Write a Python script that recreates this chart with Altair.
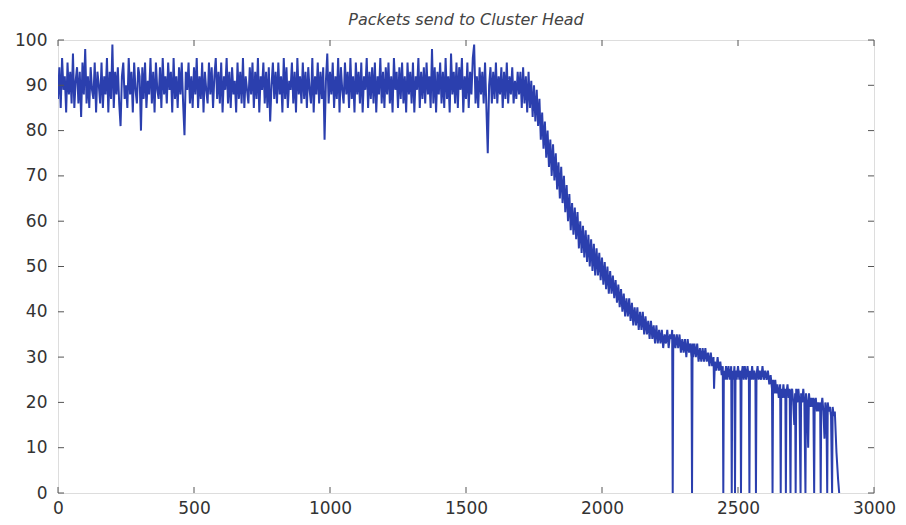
import altair as alt
import pandas as pd

# Sample spacing of the regularly sampled part of the trace
STEP = 5

# Values, x = 0 .. 1695 every 5 units
plateau = [
    87, 94, 85, 96, 89, 92, 84, 95, 88, 93, 86, 97, 85, 91, 94, 86, 93, 83, 95, 88,
    98, 86, 92, 85, 94, 89, 87, 95, 84, 93, 90, 86, 95, 85, 92, 88, 96, 84, 93, 87,
    99, 85, 93, 88, 94, 86, 81, 92, 95, 87, 90, 85, 96, 88, 93, 84, 95, 89, 86, 94,
    92, 80, 94, 87, 95, 85, 91, 88, 96, 86, 93, 84, 95, 89, 87, 94, 85, 96, 88, 92,
    86, 95, 89, 93, 84, 96, 87, 92, 85, 94, 88, 95, 86, 79, 93, 89, 95, 86, 92, 85,
    94, 88, 96, 85, 92, 87, 95, 84, 93, 89, 86, 95, 88, 94, 85, 92, 96, 87, 93, 86,
    95, 84, 92, 89, 96, 86, 93, 85, 94, 88, 91, 84, 95, 87, 93, 86, 96, 85, 92, 89,
    86, 94, 88, 95, 85, 93, 87, 96, 84, 92, 89, 95, 86, 93, 85, 94, 82, 90, 95, 87,
    93, 86, 95, 88, 92, 84, 96, 87, 94, 85, 91, 89, 95, 86, 93, 84, 96, 88, 92, 86,
    95, 87, 93, 85, 94, 89, 86, 96, 84, 92, 88, 95, 86, 93, 87, 94, 78, 91, 97, 86,
    93, 88, 95, 85, 92, 87, 96, 84, 94, 89, 86, 95, 88, 93, 85, 96, 87, 92, 84, 95,
    88, 93, 86, 95, 84, 92, 89, 96, 85, 93, 87, 94, 86, 95, 84, 92, 88, 96, 86, 93,
    85, 94, 88, 95, 86, 92, 84, 96, 89, 93, 85, 94, 87, 95, 86, 92, 84, 95, 88, 93,
    86, 95, 84, 92, 89, 96, 85, 93, 87, 94, 86, 95, 88, 92, 85, 98, 86, 94, 84, 93,
    88, 95, 86, 93, 85, 96, 87, 92, 84, 97, 88, 93, 86, 95, 85, 94, 89, 96, 84, 92,
    87, 95, 85, 93, 88, 96, 99, 86, 92, 85, 94, 88, 93, 86, 95, 85, 75, 90, 94, 86,
    93, 87, 95, 86, 92, 88, 94, 85, 93, 87, 95, 86, 92, 88, 94, 86, 91, 87, 93, 88,
]
# x = 1700 .. 2250 every 5 units
decline = [
    93, 85, 94, 86, 92, 84, 93, 85, 91, 83, 90, 82, 89, 81, 87, 78, 84, 76, 82, 74,
    80, 72, 78, 70, 77, 69, 75, 67, 73, 65, 72, 64, 70, 62, 68, 60, 66, 58, 64, 57,
    63, 56, 62, 54, 60, 53, 59, 52, 58, 51, 57, 50, 56, 49, 55, 48, 54, 48, 53, 47,
    52, 46, 51, 45, 50, 44, 49, 44, 48, 43, 47, 42, 46, 41, 45, 40, 44, 39, 43, 39,
    43, 38, 42, 37, 41, 37, 41, 36, 40, 36, 40, 35, 39, 35, 38, 34, 38, 34, 37, 33,
    37, 33, 36, 33, 36, 32, 35, 33, 36, 32, 35,
]

# Tail with the drop-outs to zero (explicit positions)
tail = [
    (2255, 34), (2258, 36), (2260, 0), (2262, 33), (2265, 35), (2270, 32), (2275, 35),
    (2280, 32), (2285, 35), (2290, 31), (2295, 34), (2300, 31), (2305, 34), (2310, 30),
    (2315, 34), (2320, 31), (2325, 33), (2329, 30), (2331, 0), (2333, 33), (2335, 30),
    (2340, 33), (2345, 30), (2350, 33), (2355, 29), (2360, 32), (2365, 29), (2370, 32),
    (2375, 29), (2380, 32), (2385, 29), (2390, 31), (2395, 28), (2400, 31), (2405, 28),
    (2410, 30), (2412, 23), (2415, 29), (2420, 27), (2425, 30), (2430, 27), (2435, 29),
    (2440, 26), (2444, 28), (2446, 0), (2448, 27), (2452, 25), (2456, 28), (2460, 25),
    (2465, 28), (2470, 25), (2475, 28), (2477, 0), (2479, 27), (2483, 25), (2487, 28),
    (2489, 0), (2491, 27), (2495, 25), (2500, 28), (2505, 25), (2509, 27), (2511, 0),
    (2513, 26), (2517, 28), (2521, 25), (2525, 28), (2530, 25), (2535, 28), (2540, 25),
    (2542, 0), (2544, 27), (2548, 25), (2552, 28), (2556, 25), (2560, 27), (2564, 25),
    (2566, 0), (2568, 26), (2572, 28), (2576, 25), (2580, 27), (2585, 25), (2590, 28),
    (2595, 25), (2600, 27), (2605, 25), (2610, 27), (2615, 24), (2620, 26), (2625, 23),
    (2627, 0), (2629, 25), (2633, 22), (2637, 25), (2641, 22), (2645, 24), (2650, 21),
    (2655, 24), (2657, 0), (2659, 23), (2663, 21), (2667, 24), (2671, 21), (2674, 23),
    (2676, 0), (2678, 22), (2682, 24), (2686, 21), (2690, 23), (2693, 0), (2695, 22),
    (2699, 23), (2703, 20), (2707, 15), (2710, 22), (2712, 0), (2714, 23), (2718, 20),
    (2722, 23), (2726, 20), (2730, 0), (2732, 22), (2736, 20), (2740, 23), (2744, 20),
    (2748, 0), (2750, 22), (2754, 20), (2758, 10), (2761, 22), (2765, 19), (2769, 21),
    (2773, 19), (2777, 21), (2780, 0), (2782, 20), (2786, 21), (2790, 18), (2794, 20),
    (2798, 18), (2802, 20), (2804, 0), (2806, 19), (2810, 21), (2814, 18), (2818, 12),
    (2821, 20), (2825, 18), (2828, 0), (2830, 20), (2834, 18), (2838, 19), (2842, 17),
    (2846, 0), (2848, 19), (2852, 17), (2856, 18), (2862, 9), (2868, 3), (2872, 0),
]

x_ticks = [0, 500, 1000, 1500, 2000, 2500, 3000]
y_ticks = [0, 10, 20, 30, 40, 50, 60, 70, 80, 90, 100]

main_y = plateau + decline
main_x = [i * STEP for i in range(len(main_y))]
tail_x = [p[0] for p in tail]
tail_y = [p[1] for p in tail]
df = pd.DataFrame({"x": main_x + tail_x, "y": main_y + tail_y})
df["order"] = range(len(df))

W, H = 816, 453
xs = alt.Scale(domain=[0, 3000], nice=False, zero=False)
ys = alt.Scale(domain=[0, 100], nice=False)

FONT = "DejaVu Sans"
LABEL_SIZE = 17

line = alt.Chart(df).mark_line(color="#2b3fae", strokeWidth=2.0, clip=True).encode(
    x=alt.X("x:Q", scale=xs, axis=alt.Axis(values=x_ticks, title=None, grid=False,
                                           domain=False, ticks=False, labelFontSize=LABEL_SIZE,
                                           labelFont=FONT, labelColor="#333",
                                           labelFlush=False, labelPadding=7, format="d")),
    y=alt.Y("y:Q", scale=ys, axis=alt.Axis(values=y_ticks, title=None, grid=False,
                                           domain=False, ticks=False, labelFontSize=LABEL_SIZE,
                                           labelFont=FONT, labelColor="#333",
                                           labelFlush=False, labelPadding=11)),
    order="order:Q",
)

xt = pd.DataFrame({"t": x_ticks})
yt = pd.DataFrame({"t": y_ticks})
tick_color = "#555"
bottom = alt.Chart(xt).mark_rule(color=tick_color, strokeWidth=1).encode(
    x=alt.X("t:Q", scale=xs), y=alt.value(H), y2=alt.value(H - 6))
top = alt.Chart(xt).mark_rule(color=tick_color, strokeWidth=1).encode(
    x=alt.X("t:Q", scale=xs), y=alt.value(0), y2=alt.value(6))
left = alt.Chart(yt).mark_rule(color=tick_color, strokeWidth=1).encode(
    y=alt.Y("t:Q", scale=ys), x=alt.value(0), x2=alt.value(6))
right = alt.Chart(yt).mark_rule(color=tick_color, strokeWidth=1).encode(
    y=alt.Y("t:Q", scale=ys), x=alt.value(W), x2=alt.value(W - 6))

chart = alt.layer(line, bottom, top, left, right).properties(
    width=W, height=H,
    title=alt.TitleParams("Packets send to Cluster Head", font=FONT, fontSize=16,
                          fontStyle="italic", fontWeight="normal", color="#444",
                          anchor="middle", offset=3),
    autosize=alt.AutoSizeParams(type="none"),
    padding={"left": 50, "top": 32, "right": 24, "bottom": 24},
).configure_view(stroke="#555", strokeWidth=1.5).configure(background="white")

chart.save("out.html", embed_options={"renderer": "svg", "actions": False})
